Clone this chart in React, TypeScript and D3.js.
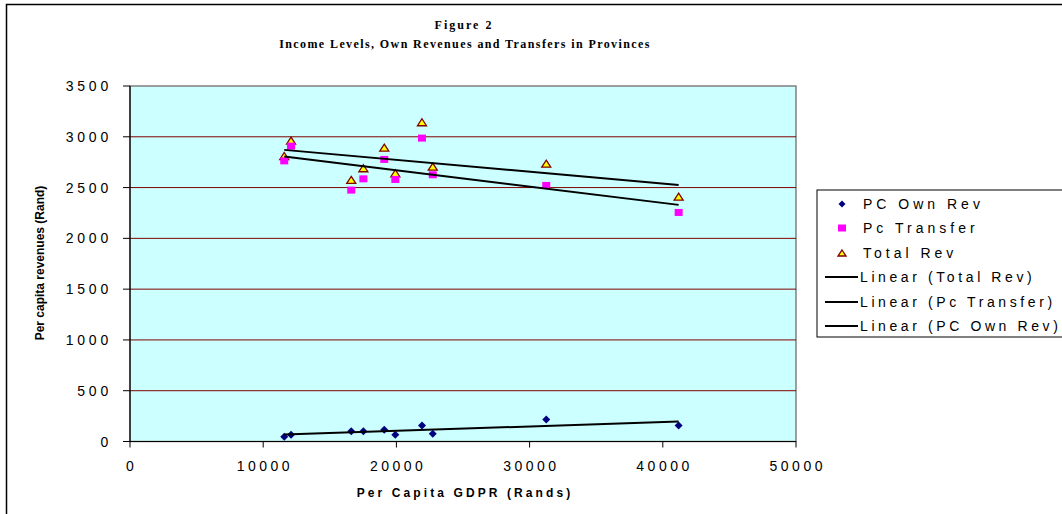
import React from "react";
import * as d3 from "d3";

const gdpr = [11580, 12090, 16610, 17520, 19090, 19920, 21920, 22730, 31250, 41190];
const ownRev = [46, 66, 102, 102, 115, 66, 158, 76, 217, 158];
const transfer = [2763, 2908, 2475, 2586, 2777, 2580, 2987, 2626, 2521, 2255];
const totalRev = [2811, 2962, 2575, 2690, 2893, 2641, 3143, 2706, 2735, 2410];

const xTicks = [0, 10000, 20000, 30000, 40000, 50000];
const yTicks = [0, 500, 1000, 1500, 2000, 2500, 3000, 3500];

const legendLabels = [
  "PC Own Rev",
  "Pc Transfer",
  "Total Rev",
  "Linear (Total Rev)",
  "Linear (Pc Transfer)",
  "Linear (PC Own Rev)",
];

function linreg(xs: number[], ys: number[]) {
  const mx = d3.mean(xs)!;
  const my = d3.mean(ys)!;
  let num = 0;
  let den = 0;
  xs.forEach((x, i) => {
    num += (x - mx) * (ys[i] - my);
    den += (x - mx) * (x - mx);
  });
  const b = num / den;
  const a = my - b * mx;
  return (x: number) => a + b * x;
}

export default function App() {
  const W = 1062;
  const H = 514;
  const L = 130, R = 796, T = 86, B = 441.5;
  const x = d3.scaleLinear().domain([0, 50000]).range([L, R]);
  const y = d3.scaleLinear().domain([0, 3500]).range([B, T]);
  const sans = "'Liberation Sans', Arial, sans-serif";
  const serif = "'Liberation Serif', 'Times New Roman', serif";

  const xMin = d3.min(gdpr)!;
  const xMax = d3.max(gdpr)!;
  const trends = [totalRev, transfer, ownRev].map((ys) => {
    const f = linreg(gdpr, ys);
    return d3.line<number>().x((v) => x(v)).y((v) => y(f(v)))([xMin, xMax])!;
  });

  const diamond = (cx: number, cy: number, r: number) =>
    `M${cx},${cy - r}L${cx + r},${cy}L${cx},${cy + r}L${cx - r},${cy}Z`;
  const tri = (cx: number, cy: number, w: number, h: number) =>
    `M${cx},${cy - h / 2}L${cx + w / 2},${cy + h / 2}L${cx - w / 2},${cy + h / 2}Z`;

  const legX = 817, legY = 190;
  const rowY = [204, 228, 253, 277, 302, 326];

  return (
    <svg width={W} height={H} style={{ position: "absolute", left: 0, top: 0, background: "#fff" }}>
      <rect x={6.5} y={4.5} width={W} height={H} fill="#fff" stroke="#000" strokeWidth={1.5} />
      {/* Title */}
      <text x={464} y={29} textAnchor="middle" fontFamily={serif} fontWeight="bold" fontSize={12} letterSpacing={2} fill="#000">
        Figure 2
      </text>
      <text x={465} y={48} textAnchor="middle" fontFamily={serif} fontWeight="bold" fontSize={12} letterSpacing={1.4} fill="#000">
        Income Levels, Own Revenues and Transfers in Provinces
      </text>
      {/* Plot area */}
      <rect x={L} y={T} width={R - L} height={B - T} fill="#ccffff" stroke="#808080" strokeWidth={1.5} />
      {yTicks.filter((t) => t > 0 && t < 3500).map((t) => (
        <line key={t} x1={L} x2={R} y1={y(t)} y2={y(t)} stroke="#800000" strokeWidth={1} />
      ))}
      {/* Axes */}
      <line x1={L} x2={L} y1={T} y2={B} stroke="#000" strokeWidth={1.2} />
      <line x1={L} x2={R} y1={B} y2={B} stroke="#000" strokeWidth={1.2} />
      {yTicks.map((t) => (
        <g key={t}>
          <line x1={L - 7} x2={L} y1={y(t)} y2={y(t)} stroke="#000" strokeWidth={1} />
          <text x={112} y={y(t) + 5} textAnchor="end" fontFamily={sans} fontSize={14} letterSpacing={3.8} fill="#000">
            {t}
          </text>
        </g>
      ))}
      {xTicks.map((t) => (
        <g key={t}>
          <line x1={x(t)} x2={x(t)} y1={B} y2={B + 6} stroke="#000" strokeWidth={1} />
          <text x={x(t) + 1.75} y={471} textAnchor="middle" fontFamily={sans} fontSize={14} letterSpacing={3.5} fill="#000">
            {t}
          </text>
        </g>
      ))}
      <text x={465} y={497} textAnchor="middle" fontFamily={sans} fontWeight="bold" fontSize={12} letterSpacing={3.1} fill="#000">
        Per Capita GDPR (Rands)
      </text>
      <text transform={`translate(44,263) rotate(-90)`} textAnchor="middle" fontFamily={sans} fontWeight="bold" fontSize={12} fill="#000">
        Per capita revenues (Rand)
      </text>
      {/* Markers */}
      {gdpr.map((g, i) => (
        <path key={"t" + i} d={tri(x(g), y(totalRev[i]), 9, 7)} fill="#ffff00" stroke="#800000" strokeWidth={1.3} />
      ))}
      {gdpr.map((g, i) => (
        <rect key={"s" + i} x={x(g) - 4} y={y(transfer[i]) - 3.5} width={8} height={7} fill="#ff00ff" />
      ))}
      {gdpr.map((g, i) => (
        <path key={"d" + i} d={diamond(x(g), y(ownRev[i]), 4)} fill="#000080" />
      ))}
      {/* Trend lines */}
      {trends.map((d, i) => (
        <path key={"l" + i} d={d} fill="none" stroke="#000" strokeWidth={2} />
      ))}
      {/* Legend */}
      <rect x={legX} y={legY} width={W} height={147} fill="#fff" stroke="#000" strokeWidth={1} />
      <path d={diamond(842, rowY[0], 3.5)} fill="#000080" />
      <rect x={838} y={rowY[1] - 3.5} width={8} height={7} fill="#ff00ff" />
      <path d={tri(842, rowY[2], 8, 6)} fill="#ffff00" stroke="#800000" strokeWidth={1.3} />
      {[3, 4, 5].map((i) => (
        <line key={i} x1={825} x2={858} y1={rowY[i]} y2={rowY[i]} stroke="#000" strokeWidth={2} />
      ))}
      {legendLabels.map((s, i) => (
        <text key={s} x={i < 3 ? 863 : 860} y={rowY[i] + 5} fontFamily={sans} fontSize={14} letterSpacing={i < 3 ? 4 : 3.6} fill="#000">
          {s}
        </text>
      ))}
    </svg>
  );
}
